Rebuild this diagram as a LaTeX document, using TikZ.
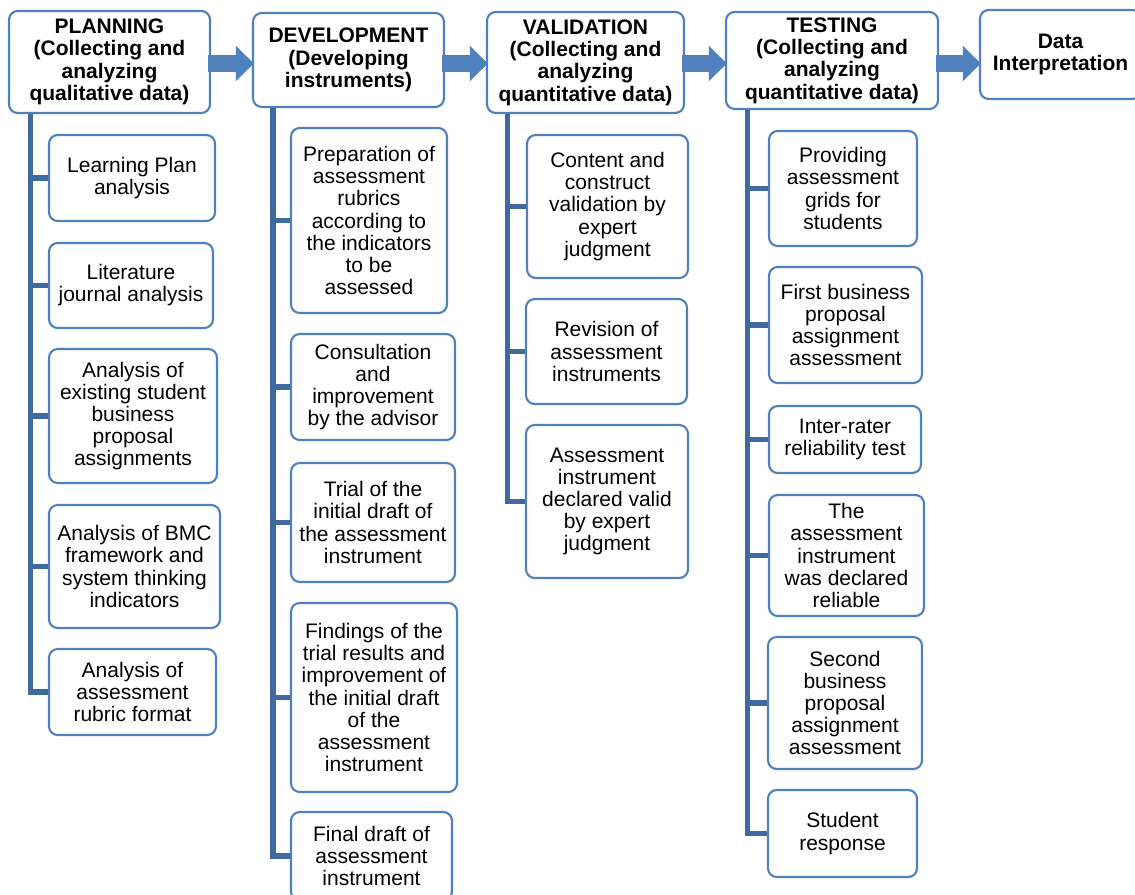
\documentclass[tikz,border=0pt]{standalone}
\usepackage{fontspec}
\setmainfont{Liberation Sans}
\usetikzlibrary{arrows.meta,calc}
\definecolor{boxline}{RGB}{79,129,189}
\definecolor{arrowfill}{RGB}{79,129,189}
\definecolor{spinecol}{RGB}{64,105,160}
\tikzset{
  boxbase/.style={draw=boxline, line width=1.6pt, fill=white, rounded corners=6.5pt,
    align=center, inner sep=0pt, text=black},
  headbox/.style={boxbase, font=\fontsize{15.75}{16.8}\selectfont\bfseries},
  subbox/.style={boxbase, font=\fontsize{15.75}{16.6}\selectfont},
  spine/.style={draw=spinecol, line width=4.2pt, line join=miter},
  blk/.style={draw=arrowfill, line width=12.75pt,
    -{Triangle[length=13.5pt,width=25.5pt]}},
}
\newcommand{\mybx}[7]{%
  \pgfmathsetmacro\bw{(#5-#3)*0.75}%
  \pgfmathsetmacro\bh{(#6-#4)*0.75}%
  \node[#1, minimum width=\bw pt, minimum height=\bh pt] (#2) at ({(#3+#5)/2},{(#4+#6)/2}) {#7};}
\begin{document}
\begin{tikzpicture}[x=0.75pt,y=-0.75pt]
\useasboundingbox (0,0) rectangle (1135,895);
\clip (0,0) rectangle (1135,895);
% spine x coordinates and arrow level
\coordinate (sp) at (30.5,0);
\coordinate (sd) at (273,0);
\coordinate (sv) at (507.5,0);
\coordinate (st) at (747.5,0);
\coordinate (ay) at (0,63.5);
% header boxes
\mybx{headbox}{P}{9}{11}{210}{113}{PLANNING\\(Collecting and\\analyzing\\qualitative data)}
\mybx{headbox}{D}{253}{13}{444}{107}{DEVELOPMENT\\(Developing\\instruments)}
\mybx{headbox}{V}{487}{12}{684}{113}{VALIDATION\\(Collecting and\\analyzing\\quantitative data)}
\mybx{headbox}{T}{726}{12}{938}{109}{TESTING\\(Collecting and\\analyzing\\quantitative data)}
\mybx{headbox}{I}{980}{10}{1141}{99}{Data\\Interpretation}
% planning children
\mybx{subbox}{p1}{49}{135}{215}{221}{Learning Plan\\analysis}
\mybx{subbox}{p2}{49}{243}{213}{328}{Literature\\journal analysis}
\mybx{subbox}{p3}{49}{349}{217}{483}{Analysis of\\existing student\\business\\proposal\\assignments}
\mybx{subbox}{p4}{49}{505}{220}{628}{Analysis of BMC\\framework and\\system thinking\\indicators}
\mybx{subbox}{p5}{49}{649}{216}{735}{Analysis of\\assessment\\rubric format}
% development children
\mybx{subbox}{d1}{291}{128}{447}{313}{Preparation of\\assessment\\rubrics\\according to\\the indicators\\to be\\assessed}
\mybx{subbox}{d2}{291}{334}{455}{440}{Consultation\\and\\improvement\\by the advisor}
\mybx{subbox}{d3}{291}{463}{455}{582}{Trial of the\\initial draft of\\the assessment\\instrument}
\mybx{subbox}{d4}{291}{603}{457}{792}{Findings of the\\trial results and\\improvement of\\the initial draft\\of the\\assessment\\instrument}
\mybx{subbox}{d5}{291}{812}{452}{900}{Final draft of\\assessment\\instrument}
% validation children
\mybx{subbox}{v1}{527}{135}{688}{278}{Content and\\construct\\validation by\\expert\\judgment}
\mybx{subbox}{v2}{526}{299}{687}{404}{Revision of\\assessment\\instruments}
\mybx{subbox}{v3}{526}{425}{688}{578}{Assessment\\instrument\\declared valid\\by expert\\judgment}
% testing children
\mybx{subbox}{t1}{769}{131}{917}{246}{Providing\\assessment\\grids for\\students}
\mybx{subbox}{t2}{769}{267}{922}{383}{First business\\proposal\\assignment\\assessment}
\mybx{subbox}{t3}{769}{406}{921}{473}{Inter-rater\\reliability test}
\mybx{subbox}{t4}{769}{495}{924}{616}{The\\assessment\\instrument\\was declared\\reliable}
\mybx{subbox}{t5}{768}{637}{922}{769}{Second\\business\\proposal\\assignment\\assessment}
\mybx{subbox}{t6}{768}{790}{917}{877}{Student\\response}
% spines and branches
\foreach \c in {p1,p2,p3,p4,p5} \draw[spine] (sp |- P.south) |- (\c.west);
\foreach \c in {d1,d2,d3,d4,d5} \draw[spine] (sd |- D.south) |- (\c.west);
\foreach \c in {v1,v2,v3} \draw[spine] (sv |- V.south) |- (\c.west);
\foreach \c in {t1,t2,t3,t4,t5,t6} \draw[spine] (st |- T.south) |- (\c.west);
% block arrows between stages
\foreach \a/\b in {P/D,D/V,V/T,T/I}{
  \coordinate (s\a) at ($(\a.east)+(-3,0)$);
  \coordinate (e\b) at ($(\b.west)+(2,0)$);
  \draw[blk] (s\a |- ay) -- (e\b |- ay);
}
\end{tikzpicture}
\end{document}
